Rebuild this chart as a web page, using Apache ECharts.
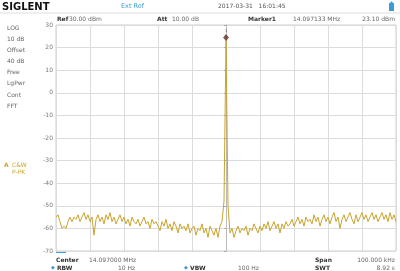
<!DOCTYPE html>
<html>
<head>
<meta charset="utf-8">
<script src="https://cdn.jsdelivr.net/npm/echarts@6/dist/echarts.min.js"></script>
<style>
html,body{margin:0;padding:0;background:#fff;}
#chart{width:400px;height:271px;}
</style>
</head>
<body>
<div id="chart"></div>
<script>
// sweep: 14.097000 MHz centre, 100 kHz span, offsets in kHz
var startKHz = -50;
var stopKHz = 50;
// trace level (dBm) per sweep point
var levels = [
  -55,-54,-57,-60,-59,-60,-57,-55,-57,-55,
  -56,-54,-57,-55,-53,-56,-54,-57,-55,-63,
  -56,-54,-57,-55,-58,-54,-56,-53,-57,-55,
  -58,-56,-54,-57,-55,-58,-56,-59,-55,-57,
  -58,-56,-59,-57,-55,-58,-57,-60,-56,-58,
  -57,-59,-61,-57,-59,-56,-60,-58,-61,-57,
  -59,-62,-58,-60,-59,-61,-58,-62,-60,-59,
  -63,-60,-61,-58,-62,-60,-64,-59,-61,-63,
  -60,-64,-59,-57,-48,23.1,-50,-62,-60,-64,
  -61,-59,-62,-60,-61,-59,-63,-60,-61,-58,
  -60,-62,-59,-61,-58,-60,-57,-61,-59,-57,
  -60,-58,-62,-58,-60,-57,-59,-58,-56,-59,
  -57,-55,-58,-56,-59,-55,-57,-56,-58,-54,
  -57,-55,-59,-56,-54,-57,-55,-58,-55,-53,
  -57,-55,-60,-56,-54,-57,-55,-53,-56,-58,
  -54,-57,-55,-53,-56,-54,-57,-55,-53,-56,
  -54,-57,-55,-53,-56,-54,-57,-53,-56,-54,
  -57
];
var marker = [0, 23.1];
var yTicks = [30, 20, 10, 0, -10, -20, -30, -40, -50, -60, -70];

var traceData = [];
levels.forEach(function (v, i) {
    traceData.push([startKHz + i * (stopKHz - startKHz) / (levels.length - 1), v]);
});

var blue = '#3d9ad6';
var gold = '#c9a52e';
var grey = '#666';
var F = '"DejaVu Sans", sans-serif';

function txt(x, y, s, o) {
    o = o || {};
    return {
        type: 'text', x: x, y: y, silent: true,
        style: {
            text: s,
            font: (o.bold ? 'bold ' : '') + (o.size || 6) + 'px ' + F,
            fill: o.color || grey,
            align: o.align || 'left', textAlign: o.align || 'left',
            verticalAlign: 'middle', textVerticalAlign: 'middle'
        }
    };
}

var graphics = [
    txt(2, 7, 'SIGLENT', {bold: true, size: 10, color: '#111'}),
    txt(121, 6, 'Ext Ref', {size: 6.5, color: blue}),
    txt(218, 6, '2017-03-31   16:01:45', {size: 6, color: '#555'}),
    {type: 'rect', silent: true, shape: {x: 389, y: 3, width: 5, height: 8}, style: {fill: blue}},
    {type: 'rect', silent: true, shape: {x: 390.5, y: 1.5, width: 2, height: 1.5}, style: {fill: blue}},
    {type: 'line', silent: true, shape: {x1: 0, y1: 13, x2: 400, y2: 13}, style: {stroke: '#ddd', lineWidth: 1}},

    txt(57, 19, 'Ref', {bold: true, color: '#333'}),
    txt(69, 19, '30.00 dBm'),
    txt(157, 19, 'Att', {bold: true, color: '#333'}),
    txt(172, 19, '10.00 dB'),
    txt(248, 19, 'Marker1', {bold: true, color: '#333'}),
    txt(293, 19, '14.097133 MHz'),
    txt(395, 19, '23.10 dBm', {align: 'right'}),

    txt(7, 28, 'LOG'),
    txt(7, 39, '10 dB'),
    txt(7, 50, 'Offset'),
    txt(7, 61, '40 dB'),
    txt(7, 72, 'Free'),
    txt(7, 83, 'LgPwr'),
    txt(7, 95, 'Cont'),
    txt(7, 106, 'FFT'),
    txt(4, 165, 'A', {bold: true, color: gold}),
    txt(12, 165, 'C&W', {color: gold}),
    txt(12, 172, 'P-PK', {color: gold}),

    {type: 'rect', silent: true, shape: {x: 56, y: 251, width: 10, height: 2}, style: {fill: blue}},

    txt(56, 260, 'Center', {bold: true, color: '#333'}),
    txt(89, 260, '14.097000 MHz'),
    txt(315, 260, 'Span', {bold: true, color: '#333'}),
    txt(395, 260, '100.000 kHz', {align: 'right'}),
    txt(51, 268, '\u25C6', {size: 5, color: blue}),
    txt(57, 268, 'RBW', {bold: true, color: '#333'}),
    txt(118, 268, '10 Hz'),
    txt(184, 268, '\u25C6', {size: 5, color: blue}),
    txt(190, 268, 'VBW', {bold: true, color: '#333'}),
    txt(238, 268, '100 Hz'),
    txt(315, 268, 'SWT', {bold: true, color: '#333'}),
    txt(395, 268, '8.92 s', {align: 'right'})
];

var chart = echarts.init(document.getElementById('chart'), null, {renderer: 'canvas'});
chart.setOption({
    animation: false,
    backgroundColor: '#fff',
    grid: {left: 56, right: 4, top: 25, bottom: 20, show: true, borderColor: '#cfcfcf', borderWidth: 1},
    xAxis: {
        type: 'value', min: startKHz, max: stopKHz, interval: 10,
        axisLine: {show: false}, axisTick: {show: false}, axisLabel: {show: false},
        splitLine: {lineStyle: {color: '#dcdcdc', width: 1}}
    },
    yAxis: {
        type: 'value', min: yTicks[yTicks.length - 1], max: yTicks[0], interval: 10,
        axisLine: {show: true, lineStyle: {color: '#bbb'}},
        axisTick: {show: true, length: 2, lineStyle: {color: '#aaa'}},
        axisLabel: {fontSize: 6, color: '#777', margin: 3, fontFamily: F},
        splitLine: {lineStyle: {color: '#dcdcdc', width: 1}}
    },
    series: [
        {
            type: 'line', data: traceData, showSymbol: false,
            lineStyle: {color: gold, width: 1}, z: 3
        },
        {
            type: 'scatter', data: [marker], symbol: 'diamond', symbolSize: [5, 6],
            symbolOffset: [0, -3],
            itemStyle: {color: '#7a2812', borderColor: '#222', borderWidth: 0.6},
            label: {show: true, position: 'top', distance: 1, formatter: '1', fontSize: 4, color: '#333'},
            z: 4
        }
    ],
    graphic: graphics
});
</script>
</body>
</html>
